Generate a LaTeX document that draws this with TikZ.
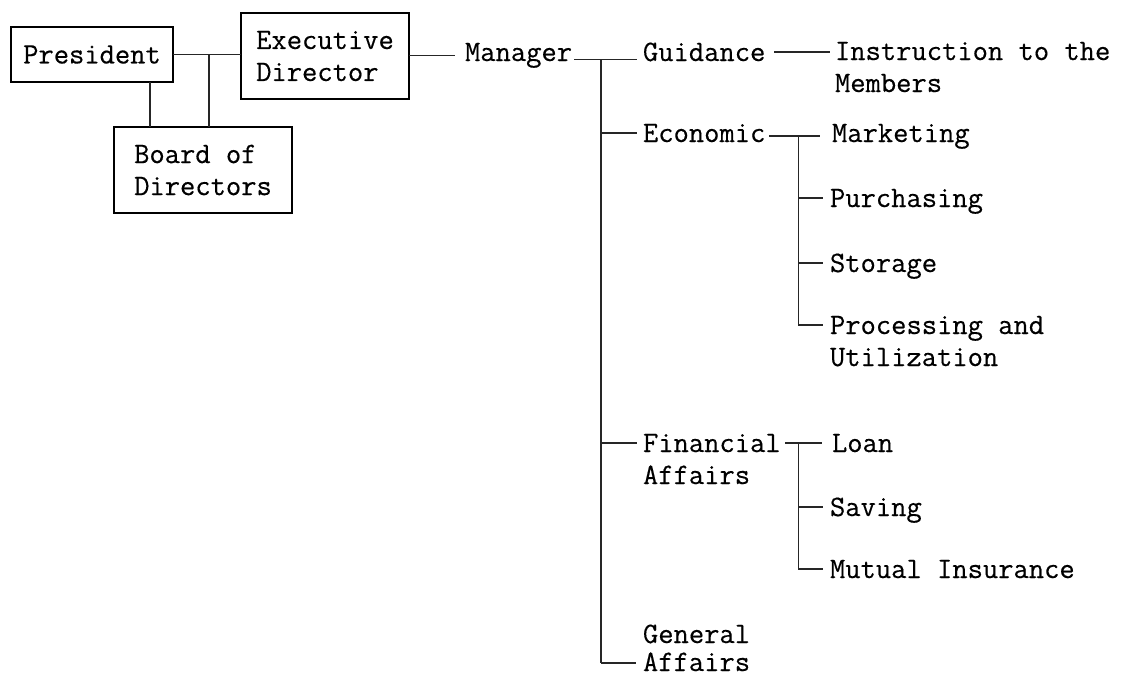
\documentclass[tikz,border=0pt]{standalone}
\usepackage{fontspec}
\newfontfamily\typewriter[FakeBold=0.4]{Latin Modern Mono}
\begin{document}
\begin{tikzpicture}[x=1pt,y=-1pt,
  every node/.style={inner sep=0pt, outer sep=0pt,
    font=\fontsize{29.7pt}{32pt}\selectfont\typewriter},
  box/.style={draw, line width=1.2pt, align=left, inner sep=0pt},
  lbl/.style={anchor=base west, align=left},
  wire/.style={line width=1.2pt, black!85}]
\useasboundingbox (0,0) rectangle (1125,678);

% --- governing bodies ---
\node[box, minimum width=162pt, minimum height=55pt] (pres) at (92,54.5) {President};
\node[box, minimum width=168pt, minimum height=86pt] (exec) at (325,56) {Executive\\Director};
\node[box, minimum width=178pt, minimum height=86pt] (board) at (203,170) {Board of\\Directors};

% --- management and departments (base = last line of each label) ---
\node[lbl] (mgr) at (465,61) {Manager};
\node[lbl] (gui) at (643,61) {Guidance};
\node[lbl] (ins) at (835,92) {Instruction to the\\Members};
\node[lbl] (eco) at (643,142) {Economic};
\node[lbl] (mkt) at (832,142) {Marketing};
\node[lbl] (pur) at (830,207) {Purchasing};
\node[lbl] (sto) at (830,272) {Storage};
\node[lbl] (pro) at (830,366) {Processing and\\Utilization};
\node[lbl] (fin) at (643,484) {Financial\\Affairs};
\node[lbl] (loan) at (832,452) {Loan};
\node[lbl] (sav) at (830,516) {Saving};
\node[lbl] (mut) at (830,578) {Mutual Insurance};
\node[lbl, font=\fontsize{29.7pt}{28pt}\selectfont\typewriter] (gen) at (643,671) {General\\Affairs};

% --- junction points ---
\path (pres.east) -- (exec.west) coordinate[pos=0.53] (j);
\coordinate (mj) at ([yshift=-4pt,xshift=29pt]mgr.east);
\coordinate (ej) at ([yshift=-3pt,xshift=33pt]eco.east);

% --- board level ---
\draw[wire] (pres.east) -- (pres.east -| exec.west);
\draw[wire] ([xshift=58pt]pres.south) -- ([xshift=58pt]pres.south |- board.north);
\draw[wire] (j) -- (j |- board.north);
\draw[wire] (exec.east |- mgr.west) -- ([xshift=-10pt]mgr.west);

% --- manager trunk ---
\draw[wire] ([xshift=2pt]mgr.east |- mj) -- ([xshift=-6pt]gui.west |- mj);
\draw[wire] (mj) -- ([yshift=8pt]mj |- gen.base);
\draw[wire] ([yshift=9pt]mj |- eco.base) -- ([xshift=-6pt,yshift=9pt]eco.base west);
\draw[wire] ([yshift=41pt]mj |- fin.base) -- ([xshift=-6pt,yshift=41pt]fin.base west);
\draw[wire] ([yshift=8pt]mj |- gen.base) -- ([xshift=-7pt,yshift=8pt]gen.base west);

% --- guidance ---
\draw[wire] ([xshift=9pt,yshift=9pt]gui.base east) -- ([xshift=-5pt,yshift=9pt]gui.base east -| ins.west);

% --- economic ---
\draw[wire] ([xshift=4pt]eco.east |- ej) -- ([xshift=-12pt]mkt.west |- ej);
\draw[wire] (ej) -- ([yshift=41pt]ej |- pro.base);
\foreach \n in {pur,sto}
  \draw[wire] ([yshift=9pt]ej |- \n.base) -- ([xshift=-7pt,yshift=9pt]\n.base west);
\draw[wire] ([yshift=41pt]ej |- pro.base) -- ([xshift=-7pt,yshift=41pt]pro.base west);

% --- financial ---
\draw[wire] ([xshift=-13pt,yshift=9pt]ej |- loan.base) -- ([xshift=-10pt,yshift=9pt]loan.base west);
\draw[wire] ([yshift=9pt]ej |- loan.base) -- ([yshift=9pt]ej |- mut.base);
\foreach \n in {sav,mut}
  \draw[wire] ([yshift=9pt]ej |- \n.base) -- ([xshift=-7pt,yshift=9pt]\n.base west);
\end{tikzpicture}
\end{document}
